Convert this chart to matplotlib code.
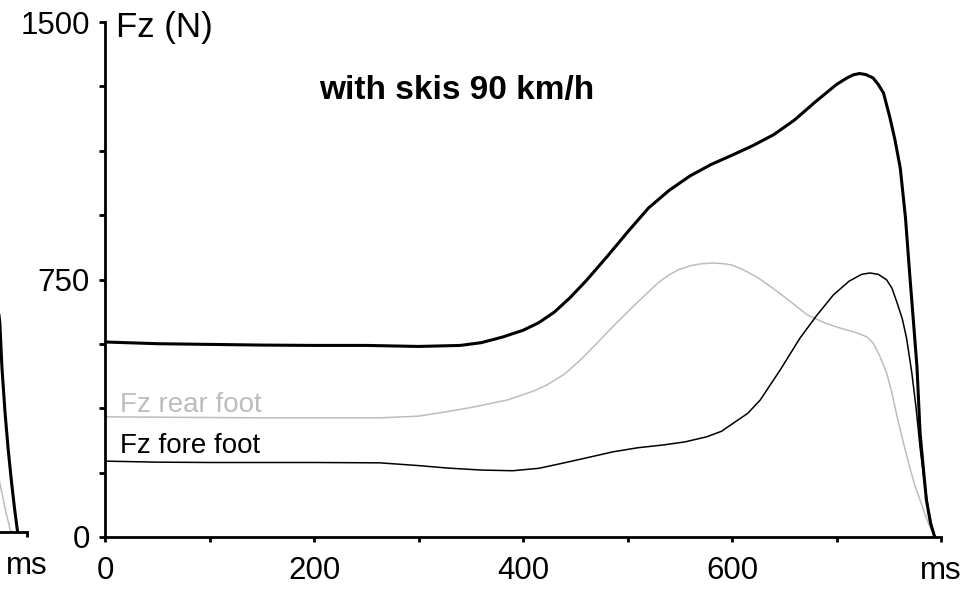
import numpy as np
import matplotlib
matplotlib.use('Agg')
import matplotlib.pyplot as plt

plt.rcParams['font.family'] = ['Liberation Sans', 'DejaVu Sans']

# ---- 合力 Fz（太線）----
t_total = [0, 20, 50, 100, 150, 200, 250, 300, 340, 360, 380, 400, 415, 430,
           445, 460, 480, 500, 520, 540, 560, 580, 600, 620, 640, 660, 680,
           700, 710, 716, 722, 728, 735, 740, 745, 751, 756, 761, 766, 770,
           775, 777, 780, 783, 786, 790, 794]
fz_total = [568, 566, 563, 561, 559, 558, 558, 555, 558, 566, 582, 602, 624,
            655, 697, 745, 815, 888, 958, 1010, 1052, 1085, 1112, 1140, 1172,
            1215, 1268, 1318, 1337, 1346, 1350, 1347, 1337, 1318, 1293, 1223,
            1156, 1075, 930, 768, 574, 496, 302, 204, 108, 40, 0]

# ---- 踵側 Fz（灰色）----
t_rear = [0, 50, 100, 150, 200, 263, 300, 327, 350, 385, 410, 423, 440, 455,
          470, 486, 505, 519, 530, 540, 550, 560, 571, 582, 592, 600, 611,
          625, 639, 655, 672, 690, 703, 720, 729, 735, 741, 748, 753, 758,
          764, 770, 775, 780, 786, 790, 793, 795]
fz_rear = [350, 349, 348, 347, 347, 347, 352, 365, 377, 399, 425, 443, 475,
           516, 562, 613, 670, 711, 742, 764, 780, 790, 796, 798, 796, 792,
           778, 755, 725, 688, 647, 622, 609, 594, 583, 565, 530, 478, 420,
           350, 275, 204, 150, 108, 55, 25, 10, 0]

# ---- 前足部 Fz（細線）----
t_fore = [0, 50, 100, 150, 200, 263, 300, 327, 360, 390, 415, 438, 460, 486,
          510, 534, 555, 576, 590, 601, 615, 627, 646, 665, 681, 697, 712,
          724, 732, 740, 748, 753, 758, 763, 767, 772, 776, 780, 784, 788,
          791, 794]
fz_fore = [221, 218, 217, 217, 217, 216, 208, 201, 195, 193, 200, 215, 230,
           248, 260, 268, 277, 292, 308, 331, 360, 399, 486, 579, 645, 705,
           745, 765, 769, 765, 749, 725, 682, 635, 580, 480, 380, 260, 160,
           80, 35, 0]

# ---- 左隣パネル（末尾のみ）----
t_left_total = [760, 770, 774, 776, 779, 782, 785, 788, 791]
fz_left_total = [900, 720, 609, 480, 347, 240, 151, 70, 0]
t_left_rear = [765, 770, 776, 780, 784, 786]
fz_left_rear = [300, 200, 114, 55, 6, 0]

x_ticks = [0, 100, 200, 300, 400, 500, 600, 700, 800]
x_ticklabels = ['0', '', '200', '', '400', '', '600', '', 'ms']
y_ticks = [0, 187.5, 375, 562.5, 750, 937.5, 1125, 1312.5, 1500]
y_ticklabels = ['0', '', '', '', '750', '', '', '', '1500']

GRAY = '#bdbdbd'
FS_TICK = 22.5

fig = plt.figure(figsize=(9.75, 5.89), dpi=100)
W, H = 975, 589


def style_axes(ax, xlabels, ylabels):
    for s in ['top', 'right']:
        ax.spines[s].set_visible(False)
    for s in ['left', 'bottom']:
        ax.spines[s].set_linewidth(2.0)
    ax.set_xlim(0, 800)
    ax.set_ylim(0, 1500)
    ax.set_xticks(x_ticks)
    ax.set_xticklabels(xlabels)
    ax.set_yticks(y_ticks)
    ax.set_yticklabels(ylabels)
    ax.tick_params(axis='x', direction='out', length=3.5, width=2.0,
                   pad=10, labelsize=FS_TICK)
    ax.tick_params(axis='y', direction='out', length=4.0, width=2.0,
                   pad=7, labelsize=FS_TICK)


# 左隣パネル（大部分は画面外）
axL = fig.add_axes([(27 - 836) / W, (H - 532) / H, 836 / W, 515 / H])
style_axes(axL, [''] * 8 + ['ms'], [''] * 9)
axL.plot(t_left_rear, fz_left_rear, color=GRAY, lw=1.1)
axL.plot(t_left_total, fz_left_total, color='black', lw=2.2)

# メインパネル
ax = fig.add_axes([105 / W, (H - 537) / H, 836 / W, 515 / H])
style_axes(ax, x_ticklabels, y_ticklabels)
ax.plot(t_rear, fz_rear, color=GRAY, lw=1.1)
ax.plot(t_fore, fz_fore, color='black', lw=1.1)
ax.plot(t_total, fz_total, color='black', lw=2.2)

ax.text(11, 1456, 'Fz (N)', fontsize=25, va='baseline', ha='left')
ax.text(337, 1276, 'with skis 90 km/h', fontsize=24, fontweight='bold',
        va='baseline', ha='center')
ax.text(14, 365, 'Fz rear foot', fontsize=20, color=GRAY, va='baseline')
ax.text(14, 244, 'Fz fore foot', fontsize=20, color='black', va='baseline')

fig.savefig('out.png', dpi=100)
